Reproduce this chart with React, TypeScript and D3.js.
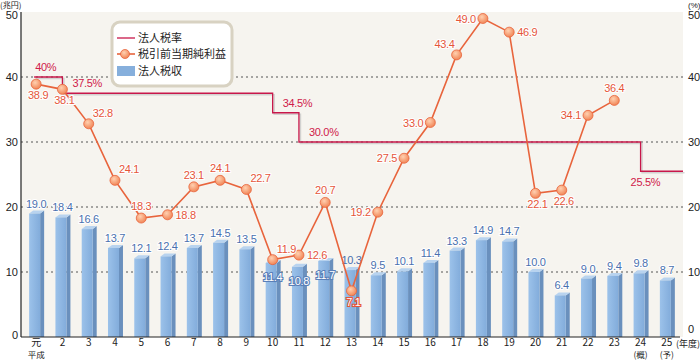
import React from "react";
import * as d3 from "d3";

const years = ["元","2","3","4","5","6","7","8","9","10","11","12","13","14","15","16","17","18","19","20","21","22","23","24","25"];
const subLabels = ["平成","","","","","","","","","","","","","","","","","","","","","","","(概)","(予)"];
const taxRevenue = [19.0,18.4,16.6,13.7,12.1,12.4,13.7,14.5,13.5,11.4,10.8,11.7,10.3,9.5,10.1,11.4,13.3,14.9,14.7,10.0,6.4,9.0,9.4,9.8,8.7];
const preTaxProfit = [38.9,38.1,32.8,24.1,18.3,18.8,23.1,24.1,22.7,11.9,12.6,20.7,7.1,19.2,27.5,33.0,43.4,49.0,46.9,22.1,22.6,34.1,36.4];
const taxRate = [40,37.5,37.5,37.5,37.5,37.5,37.5,37.5,37.5,34.5,30,30,30,30,30,30,30,30,30,30,30,30,30,25.5,25.5];
const rateLabels = [
  { i: 0, text: "40%" },
  { i: 1, text: "37.5%" },
  { i: 9, text: "34.5%" },
  { i: 10, text: "30.0%" },
  { i: 23, text: "25.5%" },
];
const yTicks = [0, 10, 20, 30, 40, 50];
// placement of profit labels relative to point
const profitPlace = ["b","b","ar","ar","a","r","a","a","ar","ar","r","a","b","l","l","l","al","l","r","b","b","l","a"];
const insideBarLabels = [9, 10, 11];

const W = 700, H = 360;
const L = 21, R = 683, T = 12, B = 337;

export default function App() {
  const x = d3.scaleBand<string>().domain(years).range([23, 680]).padding(0);
  const y = d3.scaleLinear().domain([0, 50]).range([B, T]);
  const cx = (i: number) => (x(years[i]) as number) + x.bandwidth() / 2;

  const ratePts: [number, number][] = taxRate.map((v, i) => [cx(i), y(v)]);
  ratePts[0] = [cx(0) - 2, y(taxRate[0])];
  ratePts.push([R, y(taxRate[taxRate.length - 1])]);
  const stepLine = d3.line().curve(d3.curveStepAfter)(ratePts) as string;

  const profitLine = d3.line<number>().x((_, i) => cx(i)).y((v) => y(v))(preTaxProfit) as string;

  const sans = "'Liberation Sans', Arial, 'Noto Sans CJK JP', sans-serif";
  const jp = "'Noto Sans CJK JP', sans-serif";

  const placeOffset = (p: string): [number, number, string] => {
    switch (p) {
      case "b": return [2, 15, "middle"];
      case "a": return [0, -8, "middle"];
      case "ar": return [4, -7, "start"];
      case "r": return [8, 4, "start"];
      case "l": return [-7, 4, "end"];
      case "al": return [-2, -7, "end"];
      default: return [0, -8, "middle"];
    }
  };

  return (
    <svg width={W} height={H} style={{ position: "absolute", left: 0, top: 0, background: "#fff" }}>
      <defs>
        <linearGradient id="barFront" x1="0" x2="1" y1="0" y2="0">
          <stop offset="0" stopColor="#9cc2ea" />
          <stop offset="1" stopColor="#82acdb" />
        </linearGradient>
        <radialGradient id="dot" cx="0.4" cy="0.35" r="0.7">
          <stop offset="0" stopColor="#ffd0b0" />
          <stop offset="1" stopColor="#f08050" />
        </radialGradient>
      </defs>
      <rect x={L} y={T} width={R - L} height={B - T} fill="#f6f4ef" />
      {yTicks.filter((t) => t > 0 && t < 50).map((t) => (
        <line key={t} x1={L} x2={R} y1={y(t)} y2={y(t)} stroke="#555" strokeWidth={1} strokeDasharray="2,3" />
      ))}
      {/* bars */}
      {taxRevenue.map((v, i) => {
        const c = cx(i);
        const fx = c - 7, fw = 11, d = 4, s = 3;
        const top = y(v);
        return (
          <g key={i}>
            <polygon points={`${fx + fw},${top} ${fx + fw + d},${top - s} ${fx + fw + d},${B} ${fx + fw},${B}`} fill="#6a90bd" />
            <polygon points={`${fx},${top} ${fx + d},${top - s} ${fx + fw + d},${top - s} ${fx + fw},${top}`} fill="#b8d3ef" />
            <rect x={fx} y={top} width={fw} height={B - top} fill="url(#barFront)" />
          </g>
        );
      })}
      {/* bar labels */}
      {taxRevenue.map((v, i) => {
        const c = cx(i);
        if (insideBarLabels.includes(i)) {
          return (
            <text key={i} x={c} y={y(v) + 18} textAnchor="middle" fontFamily={sans} fontSize={11}
              fill="#fff" stroke="#5a7fb8" strokeWidth={2.2} paintOrder="stroke" style={{ letterSpacing: "-0.3px" }}>{v.toFixed(1)}</text>
          );
        }
        return (
          <text key={i} x={c} y={y(v) - 6} textAnchor="middle" fontFamily={sans} fontSize={11}
            fill="#4a70ae" stroke="#fff" strokeWidth={i === 12 ? 0 : 2} paintOrder="stroke" style={{ letterSpacing: "-0.3px" }}>{v.toFixed(1)}</text>
        );
      })}
      {/* axes */}
      <line x1={L} x2={L} y1={T} y2={B} stroke="#222" strokeWidth={1.2} />
      <line x1={L} x2={680} y1={B} y2={B} stroke="#222" strokeWidth={1.2} />
      {/* rate line */}
      <path d={stepLine} fill="none" stroke="#bbb" strokeWidth={1.5} transform="translate(1.5,1.5)" opacity={0.6} />
      <path d={stepLine} fill="none" stroke="#c8174a" strokeWidth={1.3} />
      {rateLabels.map((r) => {
        const px = r.i === 0 ? cx(0) - 1 : r.i === 23 ? cx(r.i) - 10 : cx(r.i) + 10;
        const py = r.i === 23 ? y(taxRate[r.i]) + 15 : y(taxRate[r.i]) - 6;
        return (
          <text key={r.i} x={px} y={py} fontFamily={sans} fontSize={11} fill="#d0204a"
            style={{ letterSpacing: "-0.3px" }}>{r.text}</text>
        );
      })}
      {/* profit line */}
      <path d={profitLine} fill="none" stroke="#e8643c" strokeWidth={1.6} />
      {preTaxProfit.map((v, i) => (
        <circle key={i} cx={cx(i)} cy={y(v)} r={5} fill="url(#dot)" stroke="#e8643c" strokeWidth={0.8} />
      ))}
      {preTaxProfit.map((v, i) => {
        const [dx, dy, anchor] = placeOffset(profitPlace[i]);
        const isInside = i === 12;
        return (
          <text key={i} x={cx(i) + dx} y={y(v) + dy} textAnchor={anchor as any} fontFamily={sans} fontSize={11}
            fill={isInside ? "#fff" : "#e5553a"} stroke={isInside ? "#e5553a" : "#fff"} strokeWidth={isInside ? 2.2 : 2}
            paintOrder="stroke" style={{ letterSpacing: "-0.3px" }}>{v.toFixed(1)}</text>
        );
      })}
      {/* y tick labels */}
      {yTicks.map((t) => {
        const off = t === 50 ? 7 : t === 0 ? 2 : 4;
        return (
          <g key={t}>
            <text x={18} y={y(t) + off} textAnchor="end" fontFamily={sans} fontSize={11} fill="#222">{t}</text>
            <text x={688} y={y(t) + (t === 0 ? -4 : off)} textAnchor="start" fontFamily={sans} fontSize={11} fill="#222">{t}</text>
          </g>
        );
      })}
      <text x={0} y={8} fontFamily={jp} fontSize={8} fill="#222">(兆円)</text>
      <text x={688} y={8} fontFamily={sans} fontSize={8} fill="#222">(%)</text>
      {/* x labels */}
      {years.map((yr, i) => (
        <g key={yr}>
          <text x={cx(i)} y={346} textAnchor="middle" fontFamily={jp} fontSize={10} fill="#222">{yr}</text>
          {subLabels[i] && (
            <text x={cx(i)} y={358} textAnchor="middle" fontFamily={jp} fontSize={8.5} fill="#222">{subLabels[i]}</text>
          )}
        </g>
      ))}
      <text x={676} y={347} fontFamily={jp} fontSize={9} fill="#222">(年度)</text>
      {/* legend */}
      <rect x={112} y={22} width={120} height={64} rx={8} fill="#fff" stroke="#d8d2c2" strokeWidth={3} />
      <line x1={117} x2={135} y1={38} y2={38} stroke="#c8174a" strokeWidth={1.3} />
      <text x={138} y={42} fontFamily={jp} fontSize={11} fill="#222">法人税率</text>
      <line x1={117} x2={135} y1={54} y2={54} stroke="#e8643c" strokeWidth={1.6} />
      <circle cx={125} cy={54} r={4.5} fill="url(#dot)" stroke="#e8643c" strokeWidth={0.8} />
      <text x={138} y={58} fontFamily={jp} fontSize={11} fill="#222">税引前当期純利益</text>
      <rect x={117} y={66} width={18} height={10} fill="#86afdc" />
      <text x={138} y={75} fontFamily={jp} fontSize={11} fill="#222">法人税収</text>
    </svg>
  );
}
